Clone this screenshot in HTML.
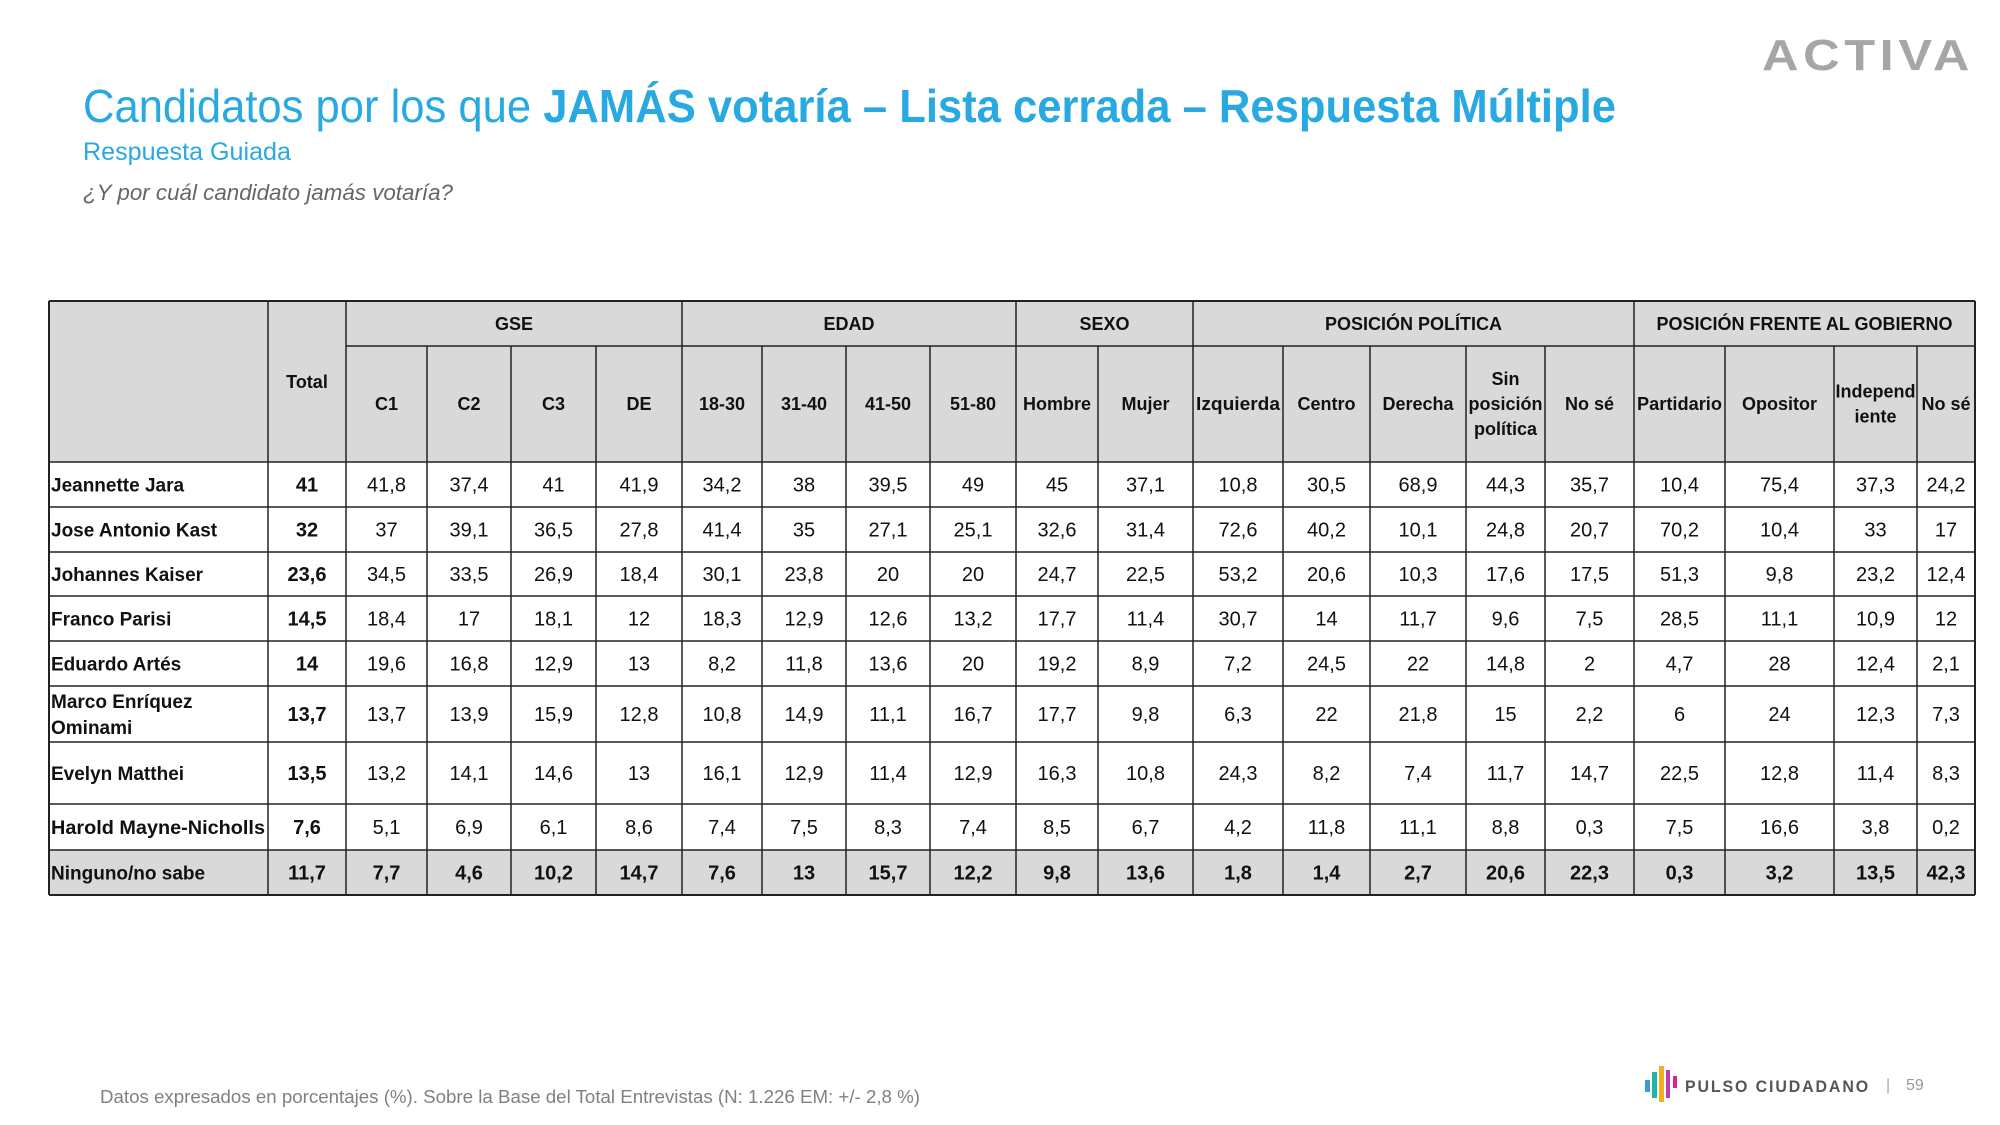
<!DOCTYPE html>
<html><head><meta charset="utf-8"><style>
html,body{margin:0;padding:0;background:#fff;}
svg{display:block;font-family:"Liberation Sans",sans-serif;}
</style></head><body>
<svg id="s" width="2000" height="1125" viewBox="0 0 2000 1125" xmlns="http://www.w3.org/2000/svg">
<text x="83" y="122" font-size="46" fill="#29a9e1" textLength="1533" lengthAdjust="spacingAndGlyphs">Candidatos por los que <tspan font-weight="bold">JAMÁS votaría – Lista cerrada – Respuesta Múltiple</tspan></text>
<text x="83" y="160" font-size="25" fill="#29a9e1" textLength="208" lengthAdjust="spacingAndGlyphs">Respuesta Guiada</text>
<text x="83" y="200" font-size="22" font-style="italic" fill="#666" textLength="370" lengthAdjust="spacingAndGlyphs">¿Y por cuál candidato jamás votaría?</text>
<text x="1762" y="70" font-size="44" font-weight="bold" fill="#a6a6a6" textLength="212" lengthAdjust="spacingAndGlyphs" letter-spacing="4">ACTIVA</text>
<text x="100" y="1103" font-size="18" fill="#808080" textLength="820" lengthAdjust="spacingAndGlyphs">Datos expresados en porcentajes (%). Sobre la Base del Total Entrevistas (N: 1.226  EM: +/- 2,8 %)</text>
<rect x="1645" y="1080" width="5" height="12" fill="#3a9bd5"/><rect x="1652" y="1072" width="5" height="26" fill="#1fb5a8"/><rect x="1659" y="1066" width="5" height="36" fill="#f2b01e"/><rect x="1666" y="1070" width="4" height="28" fill="#c03ab5"/><rect x="1673" y="1076" width="4" height="12" fill="#e0218a"/>
<text x="1685" y="1092" font-size="17" font-weight="bold" fill="#555" letter-spacing="2" textLength="185" lengthAdjust="spacingAndGlyphs">PULSO CIUDADANO</text>
<text x="1886" y="1090" font-size="16" fill="#aaa">|</text>
<text x="1906" y="1090" font-size="16" fill="#999">59</text>
<g id="t"></g>
</svg>
<script>
var E0=[49,269,347,429,513,598,685,765,849,934,1020,1102,1198,1288,1375,1472,1551,1640,1732,1841,1925,1983];
var E=E0.map(function(v){return Math.round(49+(v-49)*0.996);});
var R=[462,507,552,596,641,686,742,804,850,895];
var rows=[
["Jeannette Jara","41","41,8","37,4","41","41,9","34,2","38","39,5","49","45","37,1","10,8","30,5","68,9","44,3","35,7","10,4","75,4","37,3","24,2"],
["Jose Antonio Kast","32","37","39,1","36,5","27,8","41,4","35","27,1","25,1","32,6","31,4","72,6","40,2","10,1","24,8","20,7","70,2","10,4","33","17"],
["Johannes Kaiser","23,6","34,5","33,5","26,9","18,4","30,1","23,8","20","20","24,7","22,5","53,2","20,6","10,3","17,6","17,5","51,3","9,8","23,2","12,4"],
["Franco Parisi","14,5","18,4","17","18,1","12","18,3","12,9","12,6","13,2","17,7","11,4","30,7","14","11,7","9,6","7,5","28,5","11,1","10,9","12"],
["Eduardo Artés","14","19,6","16,8","12,9","13","8,2","11,8","13,6","20","19,2","8,9","7,2","24,5","22","14,8","2","4,7","28","12,4","2,1"],
["Marco Enríquez|Ominami","13,7","13,7","13,9","15,9","12,8","10,8","14,9","11,1","16,7","17,7","9,8","6,3","22","21,8","15","2,2","6","24","12,3","7,3"],
["Evelyn Matthei","13,5","13,2","14,1","14,6","13","16,1","12,9","11,4","12,9","16,3","10,8","24,3","8,2","7,4","11,7","14,7","22,5","12,8","11,4","8,3"],
["Harold Mayne-Nicholls","7,6","5,1","6,9","6,1","8,6","7,4","7,5","8,3","7,4","8,5","6,7","4,2","11,8","11,1","8,8","0,3","7,5","16,6","3,8","0,2"],
["Ninguno/no sabe","11,7","7,7","4,6","10,2","14,7","7,6","13","15,7","12,2","9,8","13,6","1,8","1,4","2,7","20,6","22,3","0,3","3,2","13,5","42,3"]];
var hd=["C1","C2","C3","DE","18-30","31-40","41-50","51-80","Hombre","Mujer","Izquierda","Centro","Derecha","Sin|posición|política","No sé","Partidario","Opositor","Independ|iente","No sé"];
var gr=[[2,6,"GSE"],[6,10,"EDAD"],[10,12,"SEXO"],[12,17,"POSICIÓN POLÍTICA"],[17,21,"POSICIÓN FRENTE AL GOBIERNO"]];
var s="";
function T(x,y,t,o){s+='<text x="'+x+'" y="'+y+'" '+(o||'')+'>'+t+'</text>';}
function L(x1,y1,x2,y2,w){s+='<line x1="'+x1+'" y1="'+y1+'" x2="'+x2+'" y2="'+y2+'" stroke="#222" stroke-width="'+(w||1.5)+'"/>';}
var RE=E[21];
s+='<rect x="49" y="301" width="'+(RE-49)+'" height="161" fill="#d9d9d9"/>';
s+='<rect x="49" y="850" width="'+(RE-49)+'" height="45" fill="#d9d9d9"/>';
var HB='font-size="18" font-weight="bold" fill="#111" text-anchor="middle"';
T((E[1]+E[2])/2,388,"Total",HB);
gr.forEach(function(g){T((E[g[0]]+E[g[1]])/2,330,g[2],HB);});
hd.forEach(function(h,i){var cx=(E[i+2]+E[i+3])/2,p=h.split("|"),w=E[i+3]-E[i+2]-6;
 var y0=410-(p.length-1)*12.5;p.forEach(function(q,j){var ex=(q.length>=9)?' textLength="'+w+'" lengthAdjust="spacingAndGlyphs"':'';T(cx,y0+j*25,q,HB+ex);});});
rows.forEach(function(r,i){var y1=R[i],y2=R[i+1],cy=(y1+y2)/2,last=i==8;
 var p=r[0].split("|");
 p.forEach(function(q,j){var y=cy+7-(p.length-1)*13+j*26;var ex=q.length>17?' textLength="214" lengthAdjust="spacingAndGlyphs"':'';T(51,y,q,'font-size="19" font-weight="bold" fill="#111"'+ex);});
 for(var c=1;c<21;c++){T((E[c]+E[c+1])/2,cy+7,r[c],'font-size="20" text-anchor="middle" fill="#111"'+((c==1||last)?' font-weight="bold"':''));}
});
L(49,301,RE,301,2);L(49,895,RE,895,2);L(49,301,49,895,2);L(RE,301,RE,895,2);
L(E[2],346,RE,346);
R.forEach(function(y){L(49,y,RE,y);});
for(var c=1;c<21;c++){var ty=(c==1||c==2||c==6||c==10||c==12||c==17)?301:346;L(E[c],ty,E[c],895);}
document.getElementById("t").innerHTML=s;
</script>
</body></html>
